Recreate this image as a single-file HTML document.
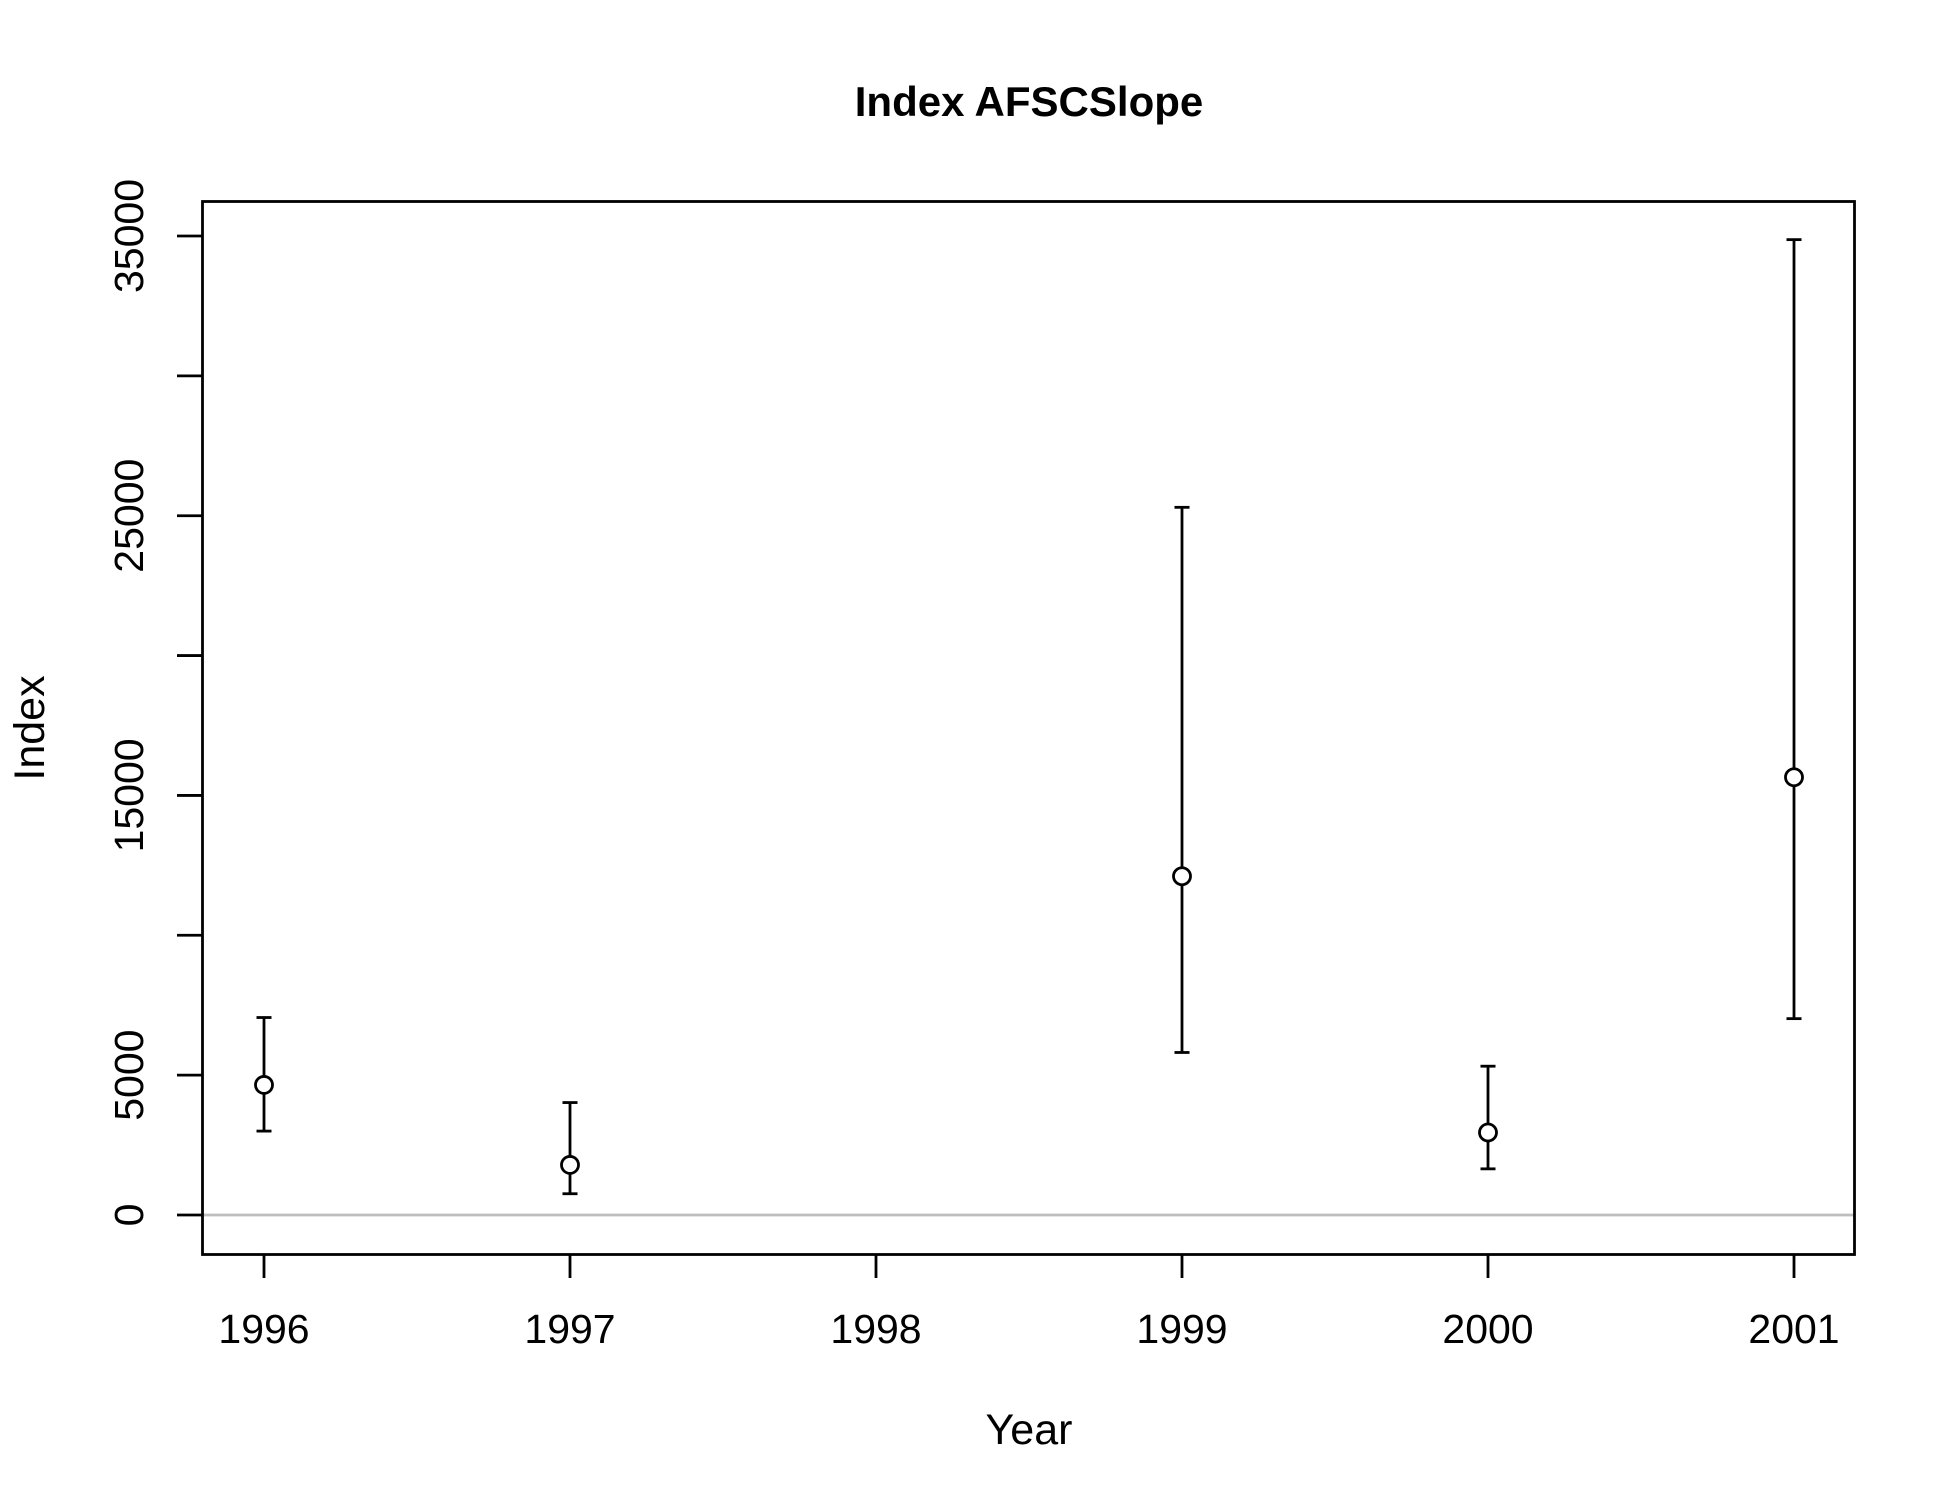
<!DOCTYPE html>
<html><head><meta charset="utf-8"><style>body{margin:0;background:#fff}svg{display:block}text{font-family:"Liberation Sans",Arial,sans-serif}</style></head>
<body>
<svg id="chart" width="1950" height="1500" viewBox="0 0 1950 1500">
<rect width="1950" height="1500" fill="#fff"/>
<text x="1029" y="116" font-size="42" font-weight="bold" text-anchor="middle">Index AFSCSlope</text>
<text x="1029" y="1444" font-size="43" text-anchor="middle">Year</text>
<text transform="translate(44,728) rotate(-90)" font-size="43" text-anchor="middle">Index</text>
<g id="ax"></g>
<g id="marks"></g>
<rect x="202.5" y="201.5" width="1652" height="1053" fill="none" stroke="#000" stroke-width="2.8"/>
</svg>
<script>
const years = [1996, 1997, 1999, 2000, 2001];
const values = [4650, 1790, 12110, 2950, 15650];
const upper = [7060, 4020, 25300, 5320, 34870];
const lower = [3000, 760, 5810, 1650, 7020];
const xTicks = [1996, 1997, 1998, 1999, 2000, 2001];
const yTicks = [0, 5000, 10000, 15000, 20000, 25000, 30000, 35000];
const yTickLabels = ["0", "5000", "", "15000", "", "25000", "", "35000"];

const NS = "http://www.w3.org/2000/svg";
function X(v){ return 264 + (v - 1996) * 306; }
function Y(v){ return 1215 - v * (979 / 35000); }
function mk(tag, attrs, parent){ const e = document.createElementNS(NS, tag); for (const k in attrs) e.setAttribute(k, attrs[k]); parent.appendChild(e); return e; }
const ax = document.getElementById('ax'), mg = document.getElementById('marks');

const zl = mk('line', {x1:202.5, x2:1854.5, y1:Y(0), y2:Y(0), stroke:'#bebebe', 'stroke-width':2.8}, ax);



xTicks.forEach(t => {
  const l = mk('line', {x1:X(t), x2:X(t), y1:1255, y2:1278, stroke:'#000', 'stroke-width':2.8}, ax);
  
  
  const tx = mk('text', {x:X(t), y:1343, 'font-size':41, 'text-anchor':'middle'}, ax);
  tx.textContent = t;
  
  
});
yTicks.forEach((t, i) => {
  const l = mk('line', {x1:177, x2:202.5, y1:Y(t), y2:Y(t), stroke:'#000', 'stroke-width':2.8}, ax);
  
  
  if (yTickLabels[i]) {
    const tx = mk('text', {transform:`translate(143,${Y(t)}) rotate(-90)`, 'font-size':41, 'text-anchor':'middle'}, ax);
    tx.textContent = yTickLabels[i];
    
    
  }
});
years.forEach((yr, i) => {
  const x = X(yr);
  const g = mk('g', {stroke:'#000', 'stroke-width':2.8, fill:'none'}, mg);
  
  
  mk('line', {x1:x, x2:x, y1:Y(upper[i]), y2:Y(values[i]) - 9}, g);
  mk('line', {x1:x, x2:x, y1:Y(values[i]) + 9, y2:Y(lower[i])}, g);
  mk('line', {x1:x-7.5, x2:x+7.5, y1:Y(upper[i]), y2:Y(upper[i])}, g);
  mk('line', {x1:x-7.5, x2:x+7.5, y1:Y(lower[i]), y2:Y(lower[i])}, g);
  const c = mk('circle', {cx:x, cy:Y(values[i]), r:8.5, fill:'#fff', stroke:'#000', 'stroke-width':2.8}, mg);
  
  
});
</script>
</body></html>
